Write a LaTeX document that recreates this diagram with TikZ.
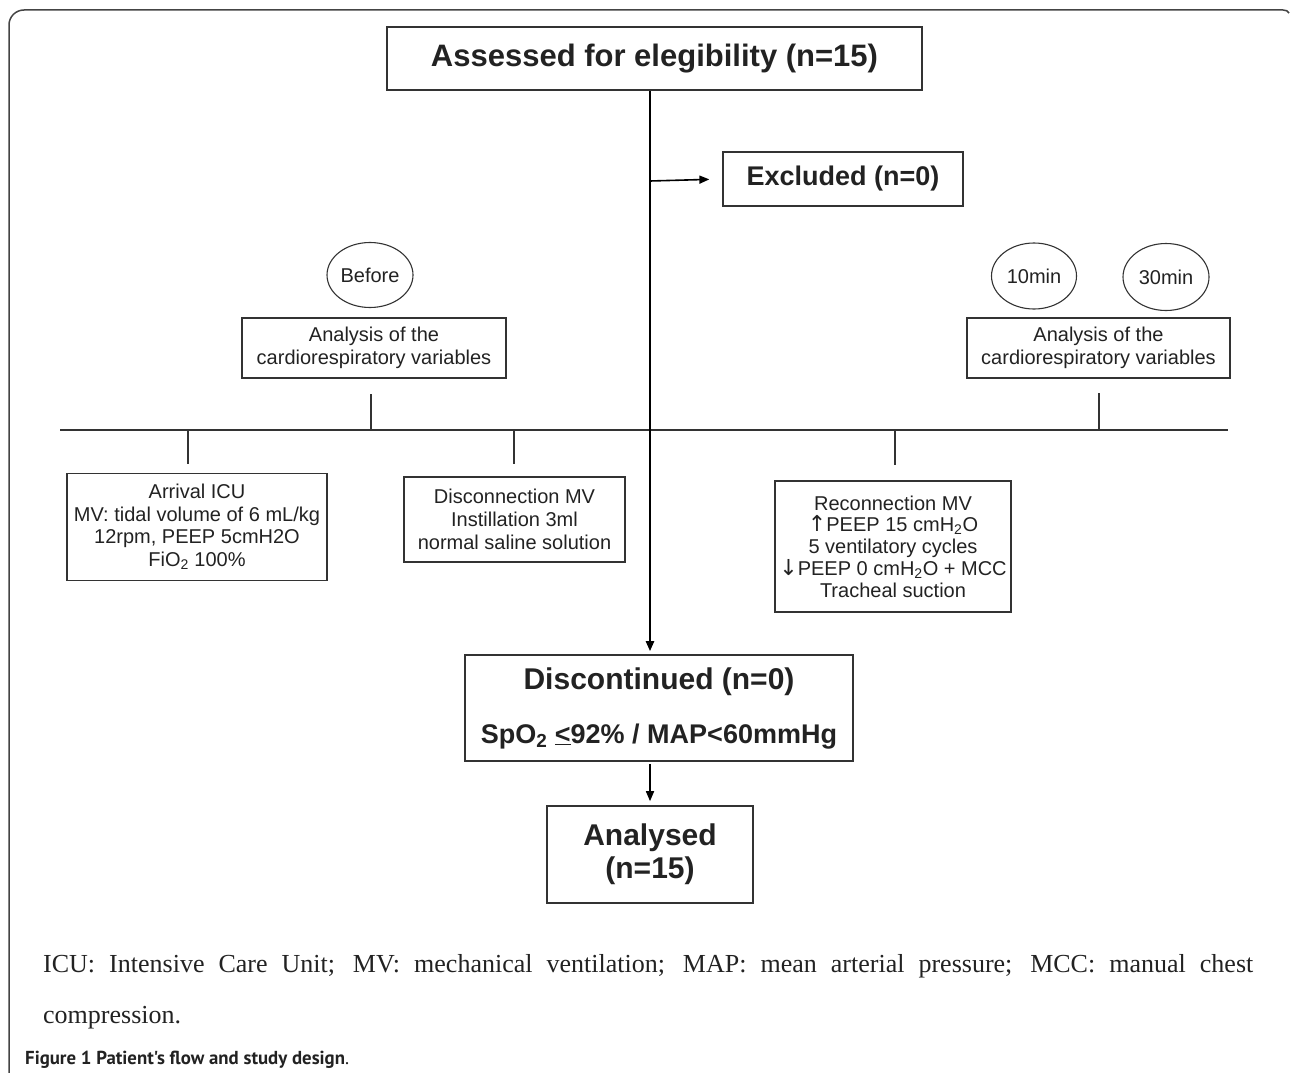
\documentclass[tikz,border=0pt]{standalone}
\usepackage{fontspec}
\setmainfont{Liberation Sans}
\newfontfamily\capserif{Liberation Serif}
\newfontfamily\figsans{PT Sans}
\newfontfamily\arrowfont{DejaVu Sans}
\usetikzlibrary{arrows.meta,shapes.geometric}
\definecolor{ink}{HTML}{222222}
\definecolor{edge}{HTML}{333333}
\definecolor{framec}{HTML}{444444}
\begin{document}
\begin{tikzpicture}[x=1pt,y=-1pt,
  bigbox/.style={draw=edge, line width=1.6pt, text=ink, inner sep=0pt, align=center},
  smallbox/.style={draw=edge, line width=1.1pt, text=ink, inner sep=0pt, align=center, font=\fontsize{20}{23}\selectfont},
  oval/.style={ellipse, draw=edge, line width=1.1pt, text=ink, inner sep=0pt, font=\fontsize{20}{23}\selectfont},
  tickline/.style={draw=edge, line width=1.1pt},
  spine/.style={draw=black, line width=2.2pt},
  tip/.style={-{Triangle[length=10pt,width=8pt]}},
  captext/.style={anchor=base west, inner sep=0pt, text=ink},
]
\useasboundingbox (0,0) rectangle (1290,1073);

% frame
\draw[framec, line width=1.5pt, rounded corners=15pt] (9,1073) -- (9,10) -- (1283,10);
\draw[framec, line width=1.5pt] (1283,10) .. controls (1286,10) and (1288,11) .. (1289,13);

% top boxes
\node[bigbox, minimum width=535pt, minimum height=63pt, font=\bfseries\fontsize{31}{36}\selectfont] (assess) at (654.5,58.5) {Assessed for elegibility (n=15)};
\node[bigbox, line width=1.3pt, minimum width=240pt, minimum height=54pt, font=\bfseries\fontsize{27}{32}\selectfont] (excl) at (843,179) {Excluded (n=0)};

% measurement times
\node[oval, minimum width=86pt, minimum height=65pt] (before) at (370,275) {Before};
\node[smallbox, minimum width=264pt, minimum height=60pt] (anaL) at (374,348) {Analysis of the\\cardiorespiratory variables};
\node[oval, minimum width=85pt, minimum height=66pt] (t10) at (1034,276) {10min};
\node[oval, minimum width=86pt, minimum height=67pt] (t30) at (1166,277) {30min};
\node[smallbox, minimum width=263pt, minimum height=60pt] (anaR) at (1098.5,348) {Analysis of the\\cardiorespiratory variables};

% timeline
\coordinate (tlA) at (60,430);
\coordinate (tlB) at (1228,430);
\draw[tickline] (tlA) -- (tlB);
\coordinate (uL) at (371,394);
\coordinate (uR) at (1099,393);
\draw[tickline] (uL) -- (uL |- tlA);
\draw[tickline] (uR) -- (uR |- tlA);
\coordinate (dA) at (188,464);
\coordinate (dB) at (514,464);
\coordinate (dC) at (895,465);
\draw[tickline] (dA |- tlA) -- (dA);
\draw[tickline] (dB |- tlA) -- (dB);
\draw[tickline] (dC |- tlA) -- (dC);

% steps
\node[smallbox, minimum width=260pt, minimum height=107pt, font=\fontsize{20}{22.6}\selectfont] (arrival) at (197,527) {Arrival ICU\\MV: tidal volume of 6 mL/kg\\12rpm, PEEP 5cmH2O\\FiO\textsubscript{2} 100\%};
\node[smallbox, minimum width=221pt, minimum height=85pt] (disconn) at (514.5,519.5) {Disconnection MV\\Instillation 3ml\\normal saline solution};
\node[smallbox, minimum width=236pt, minimum height=131pt, font=\fontsize{20}{21.8}\selectfont] (reconn) at (893,546.5) {Reconnection MV\\{\arrowfont\fontsize{22}{20}\selectfont ↑}PEEP 15 cmH\textsubscript{2}O\\5 ventilatory cycles\\{\arrowfont\fontsize{22}{20}\selectfont ↓}PEEP 0 cmH\textsubscript{2}O + MCC\\Tracheal suction};

% lower boxes
\node[bigbox, minimum width=388pt, minimum height=106pt, font=\bfseries\fontsize{30}{36}\selectfont] (disc) at (659,708) {Discontinued (n=0)\\[18pt]\fontsize{27}{32}\selectfont SpO\textsubscript{2} \underline{<}92\% / MAP<60mmHg};
\node[bigbox, minimum width=206pt, minimum height=97pt, font=\bfseries\fontsize{30}{33}\selectfont] (anal) at (650,854.5) {Analysed\\(n=15)};

% connectors
\coordinate (sx) at (650,0);
\coordinate (ex) at (650,181);
\draw[spine, tip, shorten >=3pt] (assess.south -| sx) -- (disc.north -| sx);
\draw[black, line width=1.6pt, tip, shorten >=13pt] (ex) -- (excl.west);
\draw[black, line width=1.6pt, tip, shorten <=2pt, shorten >=4pt] (disc.south -| sx) -- (anal.north -| sx);

% caption
\node[captext, font=\capserif\fontsize{26}{30}\selectfont] (cap1) at (43,972) {\makebox[1210pt][s]{ICU: Intensive Care Unit; MV: mechanical ventilation; MAP: mean arterial pressure; MCC: manual chest}};
\node[captext, font=\capserif\fontsize{26}{30}\selectfont] (cap2) at (43,1023) {compression.};
\node[captext, font=\figsans\fontsize{18.8}{22}\selectfont] (fig) at (25,1064) {\textbf{Figure 1 Patient's flow and study design}.};
\end{tikzpicture}
\end{document}
